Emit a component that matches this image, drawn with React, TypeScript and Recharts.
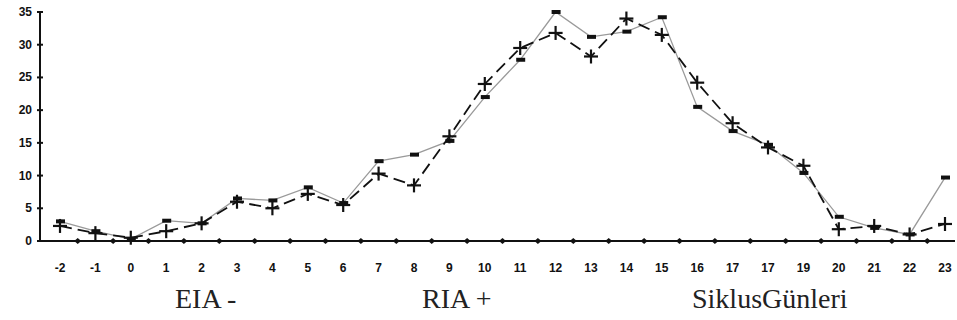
import React from 'react';
import { CartesianGrid, Line, LineChart, XAxis, YAxis } from 'recharts';

// siklus günleri (x-axis labels, as printed in the original)
const days = ['-2', '-1', '0', '1', '2', '3', '4', '5', '6', '7', '8', '9', '10', '11', '12', '13', '14', '15', '16', '17', '17', '19', '20', '21', '22', '23'];
// EIA series ("-" markers, thin grey line)
const eiaValues = [3.0, 1.5, 0.3, 3.1, 2.7, 6.5, 6.2, 8.2, 5.8, 12.2, 13.2, 15.3, 22.0, 27.7, 35.0, 31.2, 32.0, 34.2, 20.5, 16.8, 14.7, 10.4, 3.7, 2.0, 1.0, 9.7];
// RIA series ("+" markers, dashed black line)
const riaValues = [2.3, 1.2, 0.5, 1.5, 2.7, 6.0, 5.0, 7.2, 5.5, 10.3, 8.5, 16.0, 24.0, 29.5, 31.8, 28.2, 34.0, 31.5, 24.2, 18.0, 14.3, 11.5, 1.8, 2.3, 1.0, 2.6];
const yTicks = [0, 5, 10, 15, 20, 25, 30, 35];

const data = days.map((d, i) => ({ idx: i, day: d, eia: eiaValues[i], ria: riaValues[i] }));

const W = 957;
const H = 320;
// distance between two categories (plot 60..945 over 25 steps)
const STEP = (945 - 60) / 25;

const tickFont = '"Liberation Sans", Arial, sans-serif';

const DayTick = (props: any) => {
  const { x, y, payload } = props;
  const i = payload.value as number;
  const ay = y - 2; // axis line sits tickMargin above the tick origin
  const bx = x + STEP / 2;
  return (
    <g>
      <text x={x} y={y} dy={29} textAnchor="middle" fontFamily={tickFont} fontWeight="bold" fontSize={12} fill="#111">
        {days[i]}
      </text>
      {i < days.length - 1 && (
        <path d={`M${bx - 3.5},${ay} L${bx},${ay - 3} L${bx + 3.5},${ay} L${bx},${ay + 3} Z`} fill="#111" />
      )}
    </g>
  );
};

const ValueTick = (props: any) => {
  const { x, y, payload } = props;
  return (
    <g>
      <text x={x} y={y} dy={4} textAnchor="end" fontFamily={tickFont} fontWeight="bold" fontSize={12} fill="#111">
        {payload.value}
      </text>
      <line x1={37} y1={y} x2={43} y2={y} stroke="#111" strokeWidth={2} />
    </g>
  );
};

const DashDot = (props: any) => {
  const { cx, cy, index } = props;
  return <rect key={`eia-${index}`} x={cx - 4} y={cy - 2} width={9} height={4} fill="#111" />;
};

const PlusDot = (props: any) => {
  const { cx, cy, index } = props;
  return (
    <g key={`ria-${index}`}>
      <line x1={cx - 7} y1={cy} x2={cx + 7} y2={cy} stroke="#111" strokeWidth={2.2} />
      <line x1={cx} y1={cy - 7} x2={cx} y2={cy + 7} stroke="#111" strokeWidth={2.2} />
    </g>
  );
};

const footStyle: React.CSSProperties = {
  position: 'absolute',
  top: 283,
  fontFamily: '"Liberation Serif", "Times New Roman", serif',
  fontSize: 28,
  lineHeight: '32px',
  color: '#222',
  whiteSpace: 'nowrap',
};

export default function App() {
  return (
    <div style={{ position: 'absolute', left: 0, top: 0, width: W, height: H, background: '#fff' }}>
      <LineChart width={W} height={H} data={data} margin={{ top: 12, right: 2, bottom: 49, left: 0 }}>
        <CartesianGrid stroke="none" />
        <XAxis
          dataKey="idx"
          type="category"
          interval={0}
          height={30}
          padding={{ left: 20, right: 10 }}
          tickLine={false}
          tickSize={0}
          tickMargin={2}
          tick={<DayTick />}
          axisLine={{ stroke: '#111', strokeWidth: 2 }}
        />
        <YAxis
          width={40}
          domain={[0, 35]}
          ticks={yTicks}
          interval={0}
          tickSize={0}
          tickMargin={8}
          tickLine={false}
          axisLine={{ stroke: '#111', strokeWidth: 2 }}
          tick={<ValueTick />}
        />
        <Line
          dataKey="eia"
          type="linear"
          stroke="#9a9a9a"
          strokeWidth={1.3}
          dot={(p: any) => <DashDot key={`eia-${p.index}`} {...p} />}
          activeDot={false}
          isAnimationActive={false}
        />
        <Line
          dataKey="ria"
          type="linear"
          stroke="#111"
          strokeWidth={1.8}
          strokeDasharray="12 6"
          dot={(p: any) => <PlusDot key={`ria-${p.index}`} {...p} />}
          activeDot={false}
          isAnimationActive={false}
        />
      </LineChart>
      <div style={{ ...footStyle, left: 175 }}>EIA -</div>
      <div style={{ ...footStyle, left: 422 }}>RIA +</div>
      <div style={{ ...footStyle, left: 692 }}>SiklusGünleri</div>
    </div>
  );
}
